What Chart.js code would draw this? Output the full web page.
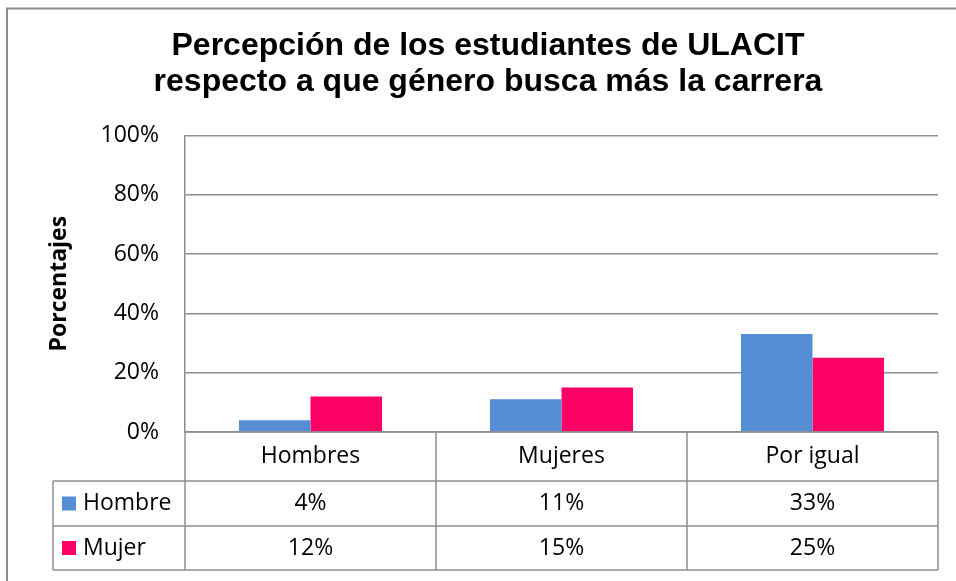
<!DOCTYPE html>
<html>
<head>
<meta charset="utf-8">
<script src="https://cdn.jsdelivr.net/npm/chart.js@4.4.0/dist/chart.umd.min.js"></script>
<style>
  html, body { margin: 0; padding: 0; background: #fff; }
  #wrap { width: 956px; height: 581px; }
</style>
</head>
<body>
<div id="wrap"><canvas id="grafico"></canvas></div>
<script>
// Datos del gráfico
const categorias = ['Hombres', 'Mujeres', 'Por igual'];
const serieHombre = [4, 11, 33];
const serieMujer = [12, 15, 25];
const ticksY = [0, 20, 40, 60, 80, 100];

const colorHombre = '#558ED5';
const colorMujer = '#FF0066';
const gris = '#8e8e8e';
const fuenteTexto = '"Open Sans", "Noto Sans", sans-serif';

// Plugin: marco exterior y tabla de datos bajo el eje
const tablaDatos = {
    id: 'tablaDatos',
    afterDraw(chart) {
        const ctx = chart.ctx;
        const area = chart.chartArea;
        const x = chart.scales.x;
        const n = categorias.length;

        // bordes de las columnas
        const bordes = [area.left];
        for (let i = 1; i < n; i++) {
            bordes.push((x.getPixelForValue(i - 1) + x.getPixelForValue(i)) / 2);
        }
        bordes.push(area.right);

        const y0 = area.bottom;
        const y1 = y0 + 49;
        const y2 = y1 + 45;
        const y3 = y2 + 44;
        const izq = 53;

        ctx.save();
        ctx.strokeStyle = gris;
        ctx.lineWidth = 1.5;
        ctx.beginPath();
        // horizontales
        ctx.moveTo(area.left, y0); ctx.lineTo(area.right, y0);
        ctx.moveTo(izq, y1); ctx.lineTo(area.right, y1);
        ctx.moveTo(izq, y2); ctx.lineTo(area.right, y2);
        ctx.moveTo(izq, y3); ctx.lineTo(area.right, y3);
        // verticales
        bordes.forEach(b => { ctx.moveTo(b, y0); ctx.lineTo(b, y3); });
        ctx.moveTo(izq, y1); ctx.lineTo(izq, y3);
        ctx.stroke();

        // marco del gráfico
        ctx.lineWidth = 2;
        ctx.strokeStyle = '#8a8a8a';
        ctx.beginPath();
        ctx.moveTo(7, 581); ctx.lineTo(7, 8.5); ctx.lineTo(956, 8.5);
        ctx.stroke();

        // textos
        ctx.fillStyle = '#000';
        ctx.font = '23px ' + fuenteTexto;
        ctx.textBaseline = 'middle';
        ctx.textAlign = 'center';
        for (let i = 0; i < n; i++) {
            const cx = (bordes[i] + bordes[i + 1]) / 2;
            ctx.fillText(categorias[i], cx, (y0 + y1) / 2);
            ctx.fillText(serieHombre[i] + '%', cx, (y1 + y2) / 2);
            ctx.fillText(serieMujer[i] + '%', cx, (y2 + y3) / 2);
        }
        // leyenda dentro de la tabla
        ctx.textAlign = 'left';
        ctx.fillStyle = colorHombre;
        ctx.fillRect(62, (y1 + y2) / 2 - 7, 14, 14);
        ctx.fillStyle = colorMujer;
        ctx.fillRect(62, (y2 + y3) / 2 - 7, 14, 14);
        ctx.fillStyle = '#000';
        ctx.fillText('Hombre', 83, (y1 + y2) / 2);
        ctx.fillText('Mujer', 83, (y2 + y3) / 2);
        ctx.restore();
    }
};

const ctxGrafico = document.getElementById('grafico').getContext('2d');

new Chart(ctxGrafico, {
    type: 'bar',
    data: {
        labels: categorias,
        datasets: [{
            label: 'Hombre',
            data: serieHombre,
            backgroundColor: colorHombre
        }, {
            label: 'Mujer',
            data: serieMujer,
            backgroundColor: colorMujer
        }]
    },
    options: {
        responsive: true,
        maintainAspectRatio: false,
        animation: false,
        layout: {
            padding: { left: 38, right: 18, top: 0, bottom: 149 }
        },
        datasets: {
            bar: {
                categoryPercentage: 0.57,
                barPercentage: 1.0
            }
        },
        plugins: {
            legend: { display: false },
            tooltip: { enabled: false },
            title: {
                display: true,
                text: ['Percepción de los estudiantes de ULACIT', 'respecto a que género busca más la carrera'],
                color: '#000',
                font: { family: '"Liberation Sans", Arial, sans-serif', size: 32, weight: 'bold', lineHeight: 1.1 },
                padding: { top: 29, bottom: 36 }
            }
        },
        scales: {
            x: {
                display: false
            },
            y: {
                min: 0,
                max: 100,
                afterFit(scale) { scale.width = 147; },
                afterBuildTicks(scale) { scale.ticks = ticksY.map(v => ({ value: v })); },
                ticks: {
                    color: '#000',
                    padding: 26,
                    font: { family: fuenteTexto, size: 23 },
                    callback: v => v + '%'
                },
                grid: {
                    color: gris,
                    lineWidth: 1.5,
                    drawTicks: false
                },
                border: { display: true, color: gris, width: 1.5 },
                title: {
                    display: true,
                    text: 'Porcentajes',
                    color: '#000',
                    font: { family: fuenteTexto, size: 23, weight: 'bold', lineHeight: 1.2 },
                    padding: { top: 8 }
                }
            }
        }
    },
    plugins: [tablaDatos]
});
</script>
</body>
</html>
